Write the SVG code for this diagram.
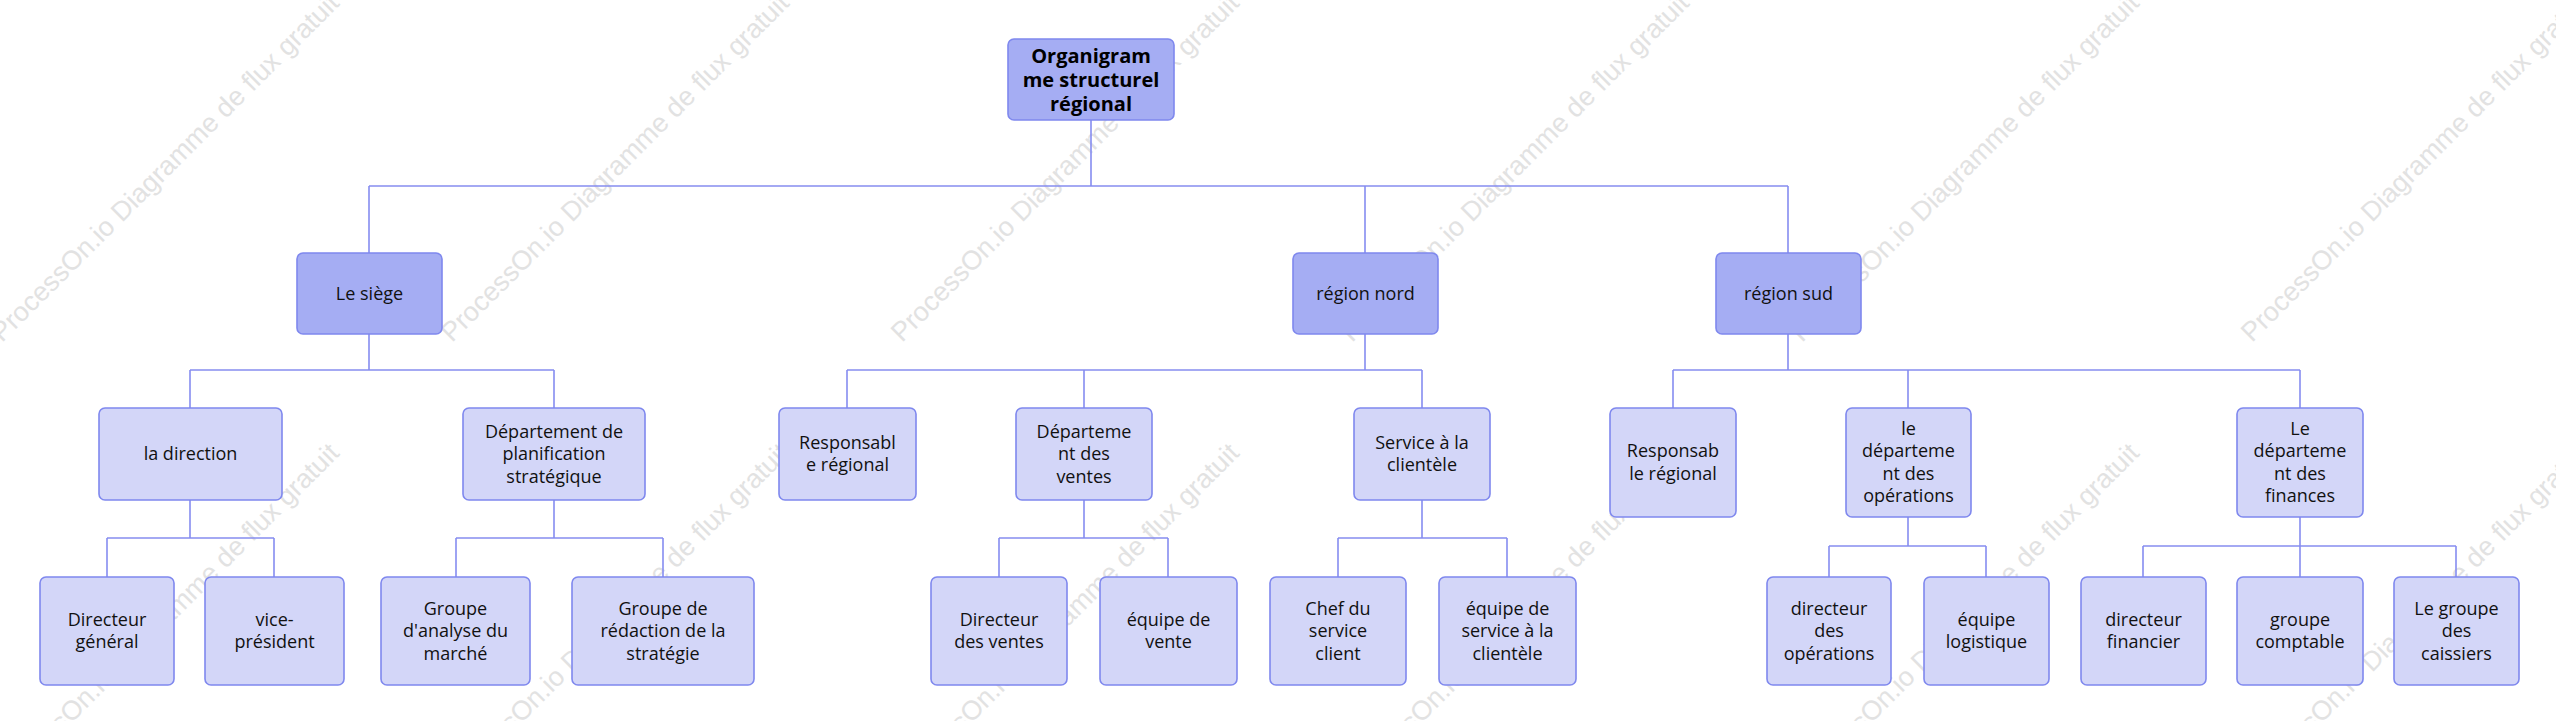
<svg xmlns="http://www.w3.org/2000/svg" width="2556" height="721" viewBox="0 0 2556 721">
<style>
.wm{font-family:"Liberation Sans",Arial,sans-serif;font-size:27px;fill:#e2e2e2}
.n1{fill:#a5adf3;stroke:#7f88ee;stroke-width:1.6}
.n2{fill:#d3d6f8;stroke:#7f88ee;stroke-width:1.6}
.t{font-family:"Open Sans","Noto Sans",sans-serif;font-size:18px;fill:#111;text-anchor:middle}
.tb{font-family:"Open Sans","Noto Sans",sans-serif;font-size:20px;font-weight:bold;fill:#000;text-anchor:middle}
.c{fill:none;stroke:#868df0;stroke-width:1.6}
</style>
<rect width="2556" height="721" fill="#fff"/>
<g id="watermark">
<text class="wm" x="2" y="343" transform="rotate(-45 2 343)">ProcessOn.io Diagramme de flux gratuit</text>
<text class="wm" x="452" y="343" transform="rotate(-45 452 343)">ProcessOn.io Diagramme de flux gratuit</text>
<text class="wm" x="902" y="343" transform="rotate(-45 902 343)">ProcessOn.io Diagramme de flux gratuit</text>
<text class="wm" x="1352" y="343" transform="rotate(-45 1352 343)">ProcessOn.io Diagramme de flux gratuit</text>
<text class="wm" x="1802" y="343" transform="rotate(-45 1802 343)">ProcessOn.io Diagramme de flux gratuit</text>
<text class="wm" x="2252" y="343" transform="rotate(-45 2252 343)">ProcessOn.io Diagramme de flux gratuit</text>
<text class="wm" x="2" y="793" transform="rotate(-45 2 793)">ProcessOn.io Diagramme de flux gratuit</text>
<text class="wm" x="452" y="793" transform="rotate(-45 452 793)">ProcessOn.io Diagramme de flux gratuit</text>
<text class="wm" x="902" y="793" transform="rotate(-45 902 793)">ProcessOn.io Diagramme de flux gratuit</text>
<text class="wm" x="1352" y="793" transform="rotate(-45 1352 793)">ProcessOn.io Diagramme de flux gratuit</text>
<text class="wm" x="1802" y="793" transform="rotate(-45 1802 793)">ProcessOn.io Diagramme de flux gratuit</text>
<text class="wm" x="2252" y="793" transform="rotate(-45 2252 793)">ProcessOn.io Diagramme de flux gratuit</text>
</g>
<g id="connectors">
<path class="c" d="M1091 120V186M369 186H1788M369 186V253M1365 186V253M1788 186V253"/>
<path class="c" d="M369 334V370M190 370H554M190 370V408M554 370V408"/>
<path class="c" d="M1365 334V370M847 370H1422M847 370V408M1084 370V408M1422 370V408"/>
<path class="c" d="M1788 334V370M1673 370H2300M1673 370V408M1908 370V408M2300 370V408"/>
<path class="c" d="M190 500V538M107 538H274M107 538V577M274 538V577"/>
<path class="c" d="M554 500V538M456 538H663M456 538V577M663 538V577"/>
<path class="c" d="M1084 500V538M999 538H1168M999 538V577M1168 538V577"/>
<path class="c" d="M1422 500V538M1338 538H1507M1338 538V577M1507 538V577"/>
<path class="c" d="M1908 517V546M1829 546H1986M1829 546V577M1986 546V577"/>
<path class="c" d="M2300 517V546M2143 546H2456M2143 546V577M2300 546V577M2456 546V577"/>
</g>
<g id="root"><rect class="n1" x="1008" y="39" width="166" height="81" rx="6"/>
<text class="tb"><tspan x="1091" y="62.5">Organigram</tspan><tspan x="1091" y="86.5">me structurel</tspan><tspan x="1091" y="110.5">régional</tspan></text></g>
<g id="siege"><rect class="n1" x="297" y="253" width="145" height="81" rx="6"/>
<text class="t" x="369.5" y="299.5">Le siège</text></g>
<g id="region-nord"><rect class="n1" x="1293" y="253" width="145" height="81" rx="6"/>
<text class="t" x="1365.5" y="299.5">région nord</text></g>
<g id="region-sud"><rect class="n1" x="1716" y="253" width="145" height="81" rx="6"/>
<text class="t" x="1788.5" y="299.5">région sud</text></g>
<g id="direction"><rect class="n2" x="99" y="408" width="183" height="92" rx="6"/>
<text class="t" x="190.5" y="460">la direction</text></g>
<g id="planification"><rect class="n2" x="463" y="408" width="182" height="92" rx="6"/>
<text class="t"><tspan x="554" y="437.5">Département de</tspan><tspan x="554" y="460">planification</tspan><tspan x="554" y="482.5">stratégique</tspan></text></g>
<g id="resp-nord"><rect class="n2" x="779" y="408" width="137" height="92" rx="6"/>
<text class="t"><tspan x="847.5" y="448.75">Responsabl</tspan><tspan x="847.5" y="471.25">e régional</tspan></text></g>
<g id="dep-ventes"><rect class="n2" x="1016" y="408" width="136" height="92" rx="6"/>
<text class="t"><tspan x="1084" y="437.5">Départeme</tspan><tspan x="1084" y="460">nt des</tspan><tspan x="1084" y="482.5">ventes</tspan></text></g>
<g id="service-clientele"><rect class="n2" x="1354" y="408" width="136" height="92" rx="6"/>
<text class="t"><tspan x="1422" y="448.75">Service à la</tspan><tspan x="1422" y="471.25">clientèle</tspan></text></g>
<g id="resp-sud"><rect class="n2" x="1610" y="408" width="126" height="109" rx="6"/>
<text class="t"><tspan x="1673" y="457.25">Responsab</tspan><tspan x="1673" y="479.75">le régional</tspan></text></g>
<g id="dep-operations"><rect class="n2" x="1846" y="408" width="125" height="109" rx="6"/>
<text class="t"><tspan x="1908.5" y="434.75">le</tspan><tspan x="1908.5" y="457.25">départeme</tspan><tspan x="1908.5" y="479.75">nt des</tspan><tspan x="1908.5" y="502.25">opérations</tspan></text></g>
<g id="dep-finances"><rect class="n2" x="2237" y="408" width="126" height="109" rx="6"/>
<text class="t"><tspan x="2300" y="434.75">Le</tspan><tspan x="2300" y="457.25">départeme</tspan><tspan x="2300" y="479.75">nt des</tspan><tspan x="2300" y="502.25">finances</tspan></text></g>
<g id="dir-general"><rect class="n2" x="40" y="577" width="134" height="108" rx="6"/>
<text class="t"><tspan x="107" y="625.75">Directeur</tspan><tspan x="107" y="648.25">général</tspan></text></g>
<g id="vice-president"><rect class="n2" x="205" y="577" width="139" height="108" rx="6"/>
<text class="t"><tspan x="274.5" y="625.75">vice-</tspan><tspan x="274.5" y="648.25">président</tspan></text></g>
<g id="analyse-marche"><rect class="n2" x="381" y="577" width="149" height="108" rx="6"/>
<text class="t"><tspan x="455.5" y="614.5">Groupe</tspan><tspan x="455.5" y="637">d'analyse du</tspan><tspan x="455.5" y="659.5">marché</tspan></text></g>
<g id="redaction-strategie"><rect class="n2" x="572" y="577" width="182" height="108" rx="6"/>
<text class="t"><tspan x="663" y="614.5">Groupe de</tspan><tspan x="663" y="637">rédaction de la</tspan><tspan x="663" y="659.5">stratégie</tspan></text></g>
<g id="dir-ventes"><rect class="n2" x="931" y="577" width="136" height="108" rx="6"/>
<text class="t"><tspan x="999" y="625.75">Directeur</tspan><tspan x="999" y="648.25">des ventes</tspan></text></g>
<g id="equipe-vente"><rect class="n2" x="1100" y="577" width="137" height="108" rx="6"/>
<text class="t"><tspan x="1168.5" y="625.75">équipe de</tspan><tspan x="1168.5" y="648.25">vente</tspan></text></g>
<g id="chef-service"><rect class="n2" x="1270" y="577" width="136" height="108" rx="6"/>
<text class="t"><tspan x="1338" y="614.5">Chef du</tspan><tspan x="1338" y="637">service</tspan><tspan x="1338" y="659.5">client</tspan></text></g>
<g id="equipe-service"><rect class="n2" x="1439" y="577" width="137" height="108" rx="6"/>
<text class="t"><tspan x="1507.5" y="614.5">équipe de</tspan><tspan x="1507.5" y="637">service à la</tspan><tspan x="1507.5" y="659.5">clientèle</tspan></text></g>
<g id="dir-operations"><rect class="n2" x="1767" y="577" width="124" height="108" rx="6"/>
<text class="t"><tspan x="1829" y="614.5">directeur</tspan><tspan x="1829" y="637">des</tspan><tspan x="1829" y="659.5">opérations</tspan></text></g>
<g id="equipe-logistique"><rect class="n2" x="1924" y="577" width="125" height="108" rx="6"/>
<text class="t"><tspan x="1986.5" y="625.75">équipe</tspan><tspan x="1986.5" y="648.25">logistique</tspan></text></g>
<g id="dir-financier"><rect class="n2" x="2081" y="577" width="125" height="108" rx="6"/>
<text class="t"><tspan x="2143.5" y="625.75">directeur</tspan><tspan x="2143.5" y="648.25">financier</tspan></text></g>
<g id="groupe-comptable"><rect class="n2" x="2237" y="577" width="126" height="108" rx="6"/>
<text class="t"><tspan x="2300" y="625.75">groupe</tspan><tspan x="2300" y="648.25">comptable</tspan></text></g>
<g id="groupe-caissiers"><rect class="n2" x="2394" y="577" width="125" height="108" rx="6"/>
<text class="t"><tspan x="2456.5" y="614.5">Le groupe</tspan><tspan x="2456.5" y="637">des</tspan><tspan x="2456.5" y="659.5">caissiers</tspan></text></g>
</svg>
